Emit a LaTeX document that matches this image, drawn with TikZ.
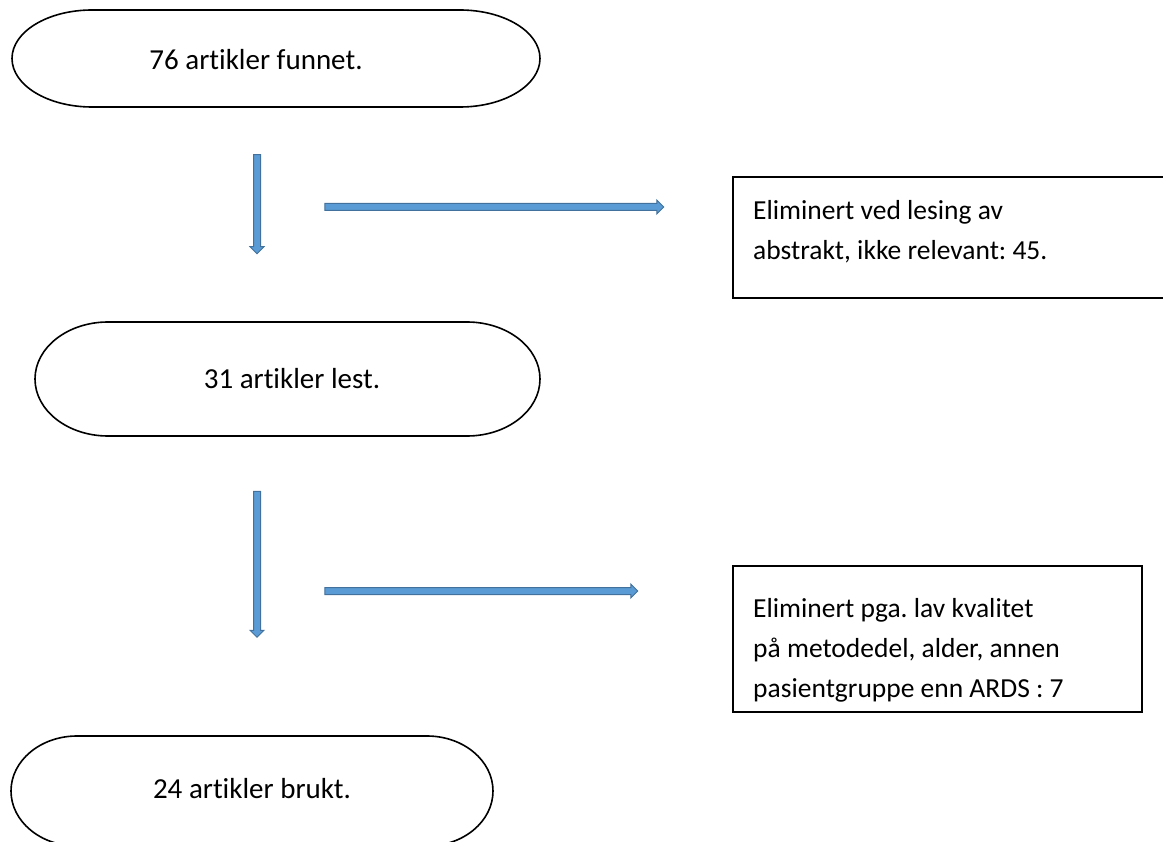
\documentclass[tikz,border=0pt]{standalone}
\usepackage{fontspec}
\setmainfont{Carlito}[Ligatures={NoCommon}]
\usetikzlibrary{shapes.arrows}
\definecolor{arrfill}{HTML}{5B9BD5}
\definecolor{arrline}{HTML}{41719C}
\tikzset{
  px/.style={x=1pt,y=1pt},
  term/.style={draw=black,line width=1.6pt},
  lbl/.style={font=\fontsize{29}{40}\selectfont},
  boxtext/.style={font=\fontsize{27.5}{40}\selectfont,anchor=north west,align=left,inner sep=0pt},
  blk/.style={single arrow,draw=arrline,fill=arrfill,line width=1pt,inner sep=3pt,
    minimum width=13pt,single arrow head extend=3.5pt,single arrow head indent=0pt},
}
% terminator: x1 ytop x2 ybottom rx, in pixel coords (y downward)
\newcommand{\termpath}[5]{%
  \draw[term] (#1+#5,-#2) -- (#3-#5,-#2)
    arc[start angle=90,end angle=-90,x radius=#5,y radius={(#4-#2)/2}]
    -- (#1+#5,-#4)
    arc[start angle=270,end angle=90,x radius=#5,y radius={(#4-#2)/2}] -- cycle;}
\begin{document}
\frenchspacing
\begin{tikzpicture}[px]
\useasboundingbox (0,0) rectangle (1163,-842);
% terminators
\termpath{12}{10}{540}{107}{80}
\node[lbl] (t1) at (256,-60) {76 artikler funnet.};
\termpath{35}{322}{540}{436}{73}
\node[lbl] (t2) at (292,-379) {31 artikler lest.};
\termpath{11}{736}{493}{846}{66}
\node[lbl] (t3) at (252,-789) {24 artikler brukt.};
% boxes
\draw[line width=1.6pt] (733,-177) rectangle (1164,-298);
\node[boxtext] (b1) at (753,-191) {\strut Eliminert ved lesing av\\abstrakt, ikke relevant: 45.};
\draw[line width=1.6pt] (733,-566) rectangle (1142,-712);
\node[boxtext] (b2) at (753,-589) {\strut Eliminert pga. lav kvalitet\\på metodedel, alder, annen\\pasientgruppe enn ARDS : 7};
% arrows
\node[blk,minimum height=99pt,shape border rotate=270] (arrd1) at (257,-202.5) {};
\node[blk,minimum height=339pt] (arrr1) at (492.5,-207) {};
\node[blk,minimum height=146pt,shape border rotate=270] (arrd2) at (257,-562.5) {};
\node[blk,minimum height=313pt] (arrr2) at (479.5,-591) {};
\end{tikzpicture}
\end{document}
